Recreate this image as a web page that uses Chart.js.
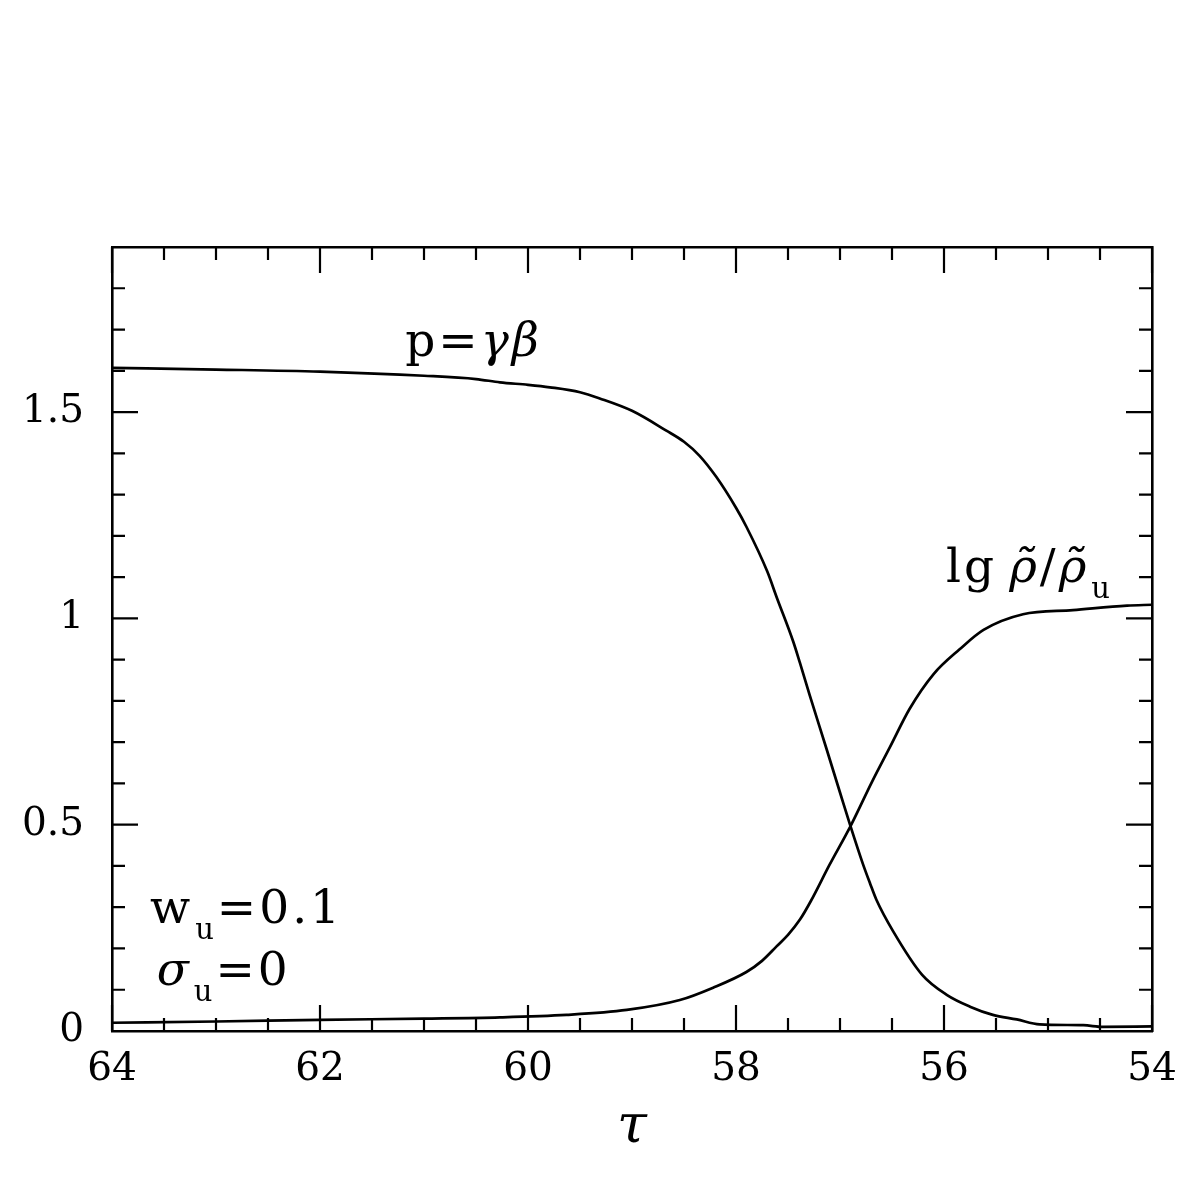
<!DOCTYPE html>
<html>
<head>
<meta charset="utf-8">
<script src="https://cdn.jsdelivr.net/npm/chart.js@4.4.0/dist/chart.umd.min.js"></script>
<style>
  html, body { margin: 0; padding: 0; background: #fff; }
  #wrap { width: 1196px; height: 1196px; }
</style>
</head>
<body>
<div id="wrap"><canvas id="chart" width="1196" height="1196"></canvas></div>
<script>
// p = gamma*beta (tau runs from 64 down to 54)
const tauP = [64, 63, 62, 61, 60.5, 60.27, 60, 59.79, 59.5, 59.31, 59, 58.67, 58.5, 58.35, 58.19, 58,
  57.9, 57.7, 57.61, 57.45, 57.385, 57.29, 57.13, 57, 56.9, 56.78, 56.71, 56.65, 56.49, 56.21,
  55.97, 55.75, 55.53, 55.3, 55.08, 54.66, 54.47, 54];
const pValues = [1.607, 1.603, 1.598, 1.588, 1.580, 1.572, 1.566, 1.560, 1.548, 1.533, 1.503, 1.455,
  1.428, 1.394, 1.343, 1.268, 1.222, 1.114, 1.052, 0.944, 0.892, 0.813, 0.684, 0.578, 0.497, 0.405,
  0.357, 0.318, 0.242, 0.136, 0.087, 0.059, 0.039, 0.028, 0.016, 0.014, 0.010, 0.011];

// lg rho/rho_u
const tauRho = [64, 63, 62, 61, 60.27, 59.63, 59.05, 58.54, 58.22, 57.9, 57.75, 57.61, 57.5, 57.385,
  57.28, 57.1, 56.9, 56.69, 56.52, 56.33, 56.1, 55.85, 55.62, 55.24, 54.76, 54.24, 54];
const rhoValues = [0.020, 0.023, 0.027, 0.030, 0.033, 0.039, 0.051, 0.075, 0.105, 0.143, 0.170, 0.205,
  0.233, 0.270, 0.315, 0.403, 0.496, 0.605, 0.688, 0.781, 0.865, 0.925, 0.972, 1.010, 1.020, 1.031, 1.033];

const xTickLabels = [64, 62, 60, 58, 56, 54];
const yTickLabels = [0, 0.5, 1, 1.5];
const xTicks = [54, 54.5, 55, 55.5, 56, 56.5, 57, 57.5, 58, 58.5, 59, 59.5, 60, 60.5, 61, 61.5, 62, 62.5, 63, 63.5, 64];
const yTicks = [0, 0.1, 0.2, 0.3, 0.4, 0.5, 0.6, 0.7, 0.8, 0.9, 1, 1.1, 1.2, 1.3, 1.4, 1.5, 1.6, 1.7, 1.8, 1.9];

const FONT = '"DejaVu Serif", serif';

// text notes, anchored in data coordinates
const notes = [
  { tau: 61.18, val: 1.636, parts: [{ text: 'p' }, { text: '=' }, { text: 'γβ', italic: true }] },
  { tau: 55.98, val: 1.087, parts: [{ text: 'lg' }, { text: 'ρ̃', italic: true, gap: 12 }, { text: '/' }, { text: 'ρ̃', italic: true }, { text: 'u', sub: true }] },
  { tau: 63.635, val: 0.262, parts: [{ text: 'w' }, { text: 'u', sub: true }, { text: '=0.1' }] },
  { tau: 63.57, val: 0.112, parts: [{ text: 'σ', italic: true }, { text: 'u', sub: true }, { text: '=0' }] }
];

function drawParts(ctx, x, y, parts) {
  parts.forEach(p => {
    const size = p.sub ? 29 : 47;
    ctx.font = (p.italic ? 'italic ' : '') + size + 'px ' + FONT;
    ctx.letterSpacing = p.sub ? '0px' : '3px';
    const dy = p.sub ? 16 : 0;
    const dx = (p.sub ? 2 : 0) + (p.gap || 0);
    ctx.fillText(p.text, x + dx, y + dy);
    x += ctx.measureText(p.text).width + dx + (p.sub ? 3 : 0);
  });
  ctx.letterSpacing = '0px';
}

const framePlugin = {
  id: 'frame',
  afterDraw(chart) {
    const ctx = chart.ctx;
    const xs = chart.scales.x, ys = chart.scales.y;
    const a = chart.chartArea;
    ctx.save();
    ctx.strokeStyle = '#000';
    ctx.lineWidth = 2.2;
    ctx.beginPath();
    xTicks.forEach(v => {
      const px = xs.getPixelForValue(v);
      const len = xTickLabels.includes(v) ? 26 : 13;
      ctx.moveTo(px, a.bottom); ctx.lineTo(px, a.bottom - len);
      ctx.moveTo(px, a.top); ctx.lineTo(px, a.top + len);
    });
    yTicks.forEach(v => {
      const py = ys.getPixelForValue(v);
      const len = yTickLabels.includes(v) ? 26 : 13;
      ctx.moveTo(a.left, py); ctx.lineTo(a.left + len, py);
      ctx.moveTo(a.right, py); ctx.lineTo(a.right - len, py);
    });
    ctx.stroke();

    ctx.fillStyle = '#000';
    ctx.textBaseline = 'alphabetic';
    ctx.textAlign = 'left';
    notes.forEach(n => {
      drawParts(ctx, xs.getPixelForValue(n.tau), ys.getPixelForValue(n.val), n.parts);
    });

    ctx.textAlign = 'center';
    ctx.font = 'italic 54px ' + FONT;
    ctx.fillText('τ', (a.left + a.right) / 2, a.bottom + 111);
    ctx.restore();
  }
};

const border = { display: true, color: '#000', width: 2.6 };

new Chart(document.getElementById('chart'), {
  type: 'line',
  data: {
    datasets: [
      {
        label: 'p',
        data: tauP.map((t, i) => ({ x: t, y: pValues[i] })),
        borderColor: '#000', borderWidth: 2.7, pointRadius: 0,
        cubicInterpolationMode: 'monotone', fill: false
      },
      {
        label: 'rho',
        data: tauRho.map((t, i) => ({ x: t, y: rhoValues[i] })),
        borderColor: '#000', borderWidth: 2.7, pointRadius: 0,
        cubicInterpolationMode: 'monotone', fill: false
      }
    ]
  },
  options: {
    responsive: false,
    animation: false,
    layout: { padding: 0 },
    plugins: { legend: { display: false }, tooltip: { enabled: false } },
    scales: {
      x: {
        type: 'linear', position: 'bottom', min: 54, max: 64, reverse: true,
        grid: { display: false, drawTicks: false }, border,
        afterBuildTicks: s => { s.ticks = xTickLabels.map(v => ({ value: v })); },
        afterFit: s => { s.height = 165; },
        ticks: { color: '#000', padding: 15, maxRotation: 0, font: { family: FONT, size: 39 } }
      },
      x2: {
        type: 'linear', position: 'top', min: 54, max: 64, reverse: true,
        grid: { display: false, drawTicks: false }, border,
        ticks: { display: false },
        afterFit: s => { s.height = 247; }
      },
      y: {
        type: 'linear', position: 'left', min: 0, max: 1.9,
        grid: { display: false, drawTicks: false }, border,
        afterBuildTicks: s => { s.ticks = yTickLabels.map(v => ({ value: v })); },
        afterFit: s => { s.width = 112; },
        ticks: { color: '#000', padding: 28, font: { family: FONT, size: 39 }, callback: v => String(v) }
      },
      y2: {
        type: 'linear', position: 'right', min: 0, max: 1.9,
        grid: { display: false, drawTicks: false }, border,
        ticks: { display: false },
        afterFit: s => { s.width = 44; }
      }
    }
  },
  plugins: [framePlugin]
});
</script>
</body>
</html>
